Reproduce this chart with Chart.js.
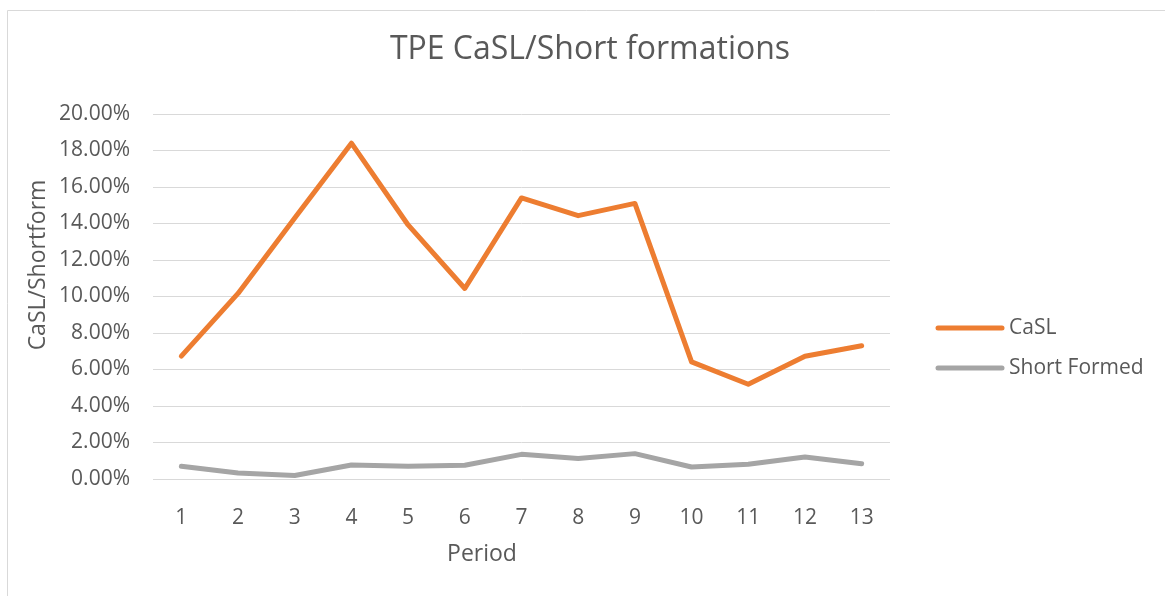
<!DOCTYPE html>
<html>
<head>
<meta charset="utf-8">
<script src="https://cdn.jsdelivr.net/npm/chart.js@4"></script>
<style>
  html, body { margin: 0; padding: 0; background: #fff; }
  #wrap { width: 1165px; height: 596px; position: relative; }
</style>
</head>
<body>
<div id="wrap"><canvas id="myChart" width="1165" height="596"></canvas></div>
<script>
// periods on the x axis
const periods = ["1", "2", "3", "4", "5", "6", "7", "8", "9", "10", "11", "12", "13"];
// values as fractions (0.067 = 6.70%)
const casl = [0.0673, 0.1017, 0.1430, 0.1840, 0.1392, 0.1044, 0.1540, 0.1443, 0.1510, 0.0642, 0.0519, 0.0673, 0.0730];
const shortFormed = [0.0070, 0.0033, 0.0019, 0.0077, 0.0070, 0.0075, 0.0135, 0.0112, 0.0139, 0.0066, 0.0081, 0.0121, 0.0084];

const chartTitle = "TPE CaSL/Short formations";
const xTitle = "Period";
const yTitle = "CaSL/Shortform";

const FONT = "'Open Sans', 'Liberation Sans', sans-serif";
const TEXT = "#595959";

// frame, titles and legend drawn by hand (Excel style placement)
const excelBits = {
  id: "excelBits",
  beforeDraw(chart) {
    const c = chart.ctx;
    c.save();
    c.strokeStyle = "#d9d9d9";
    c.lineWidth = 1;
    c.beginPath();
    c.moveTo(7.5, 596);
    c.lineTo(7.5, 10.5);
    c.lineTo(1165, 10.5);
    c.stroke();
    c.restore();
  },
  afterDraw(chart) {
    const c = chart.ctx;
    c.save();
    c.fillStyle = TEXT;
    c.textBaseline = "alphabetic";

    // chart title
    c.font = "32px " + FONT;
    c.textAlign = "center";
    c.fillText(chartTitle, 590, 59);

    // x axis title
    c.font = "23px " + FONT;
    c.fillText(xTitle, 482, 561);

    // y axis title
    c.save();
    c.translate(45, 265);
    c.rotate(-Math.PI / 2);
    c.fillText(yTitle, 0, 0);
    c.restore();

    // legend
    c.textAlign = "left";
    c.textBaseline = "middle";
    c.font = "21px " + FONT;
    chart.data.datasets.forEach((ds, i) => {
      const y = 328 + i * 40;
      c.strokeStyle = ds.borderColor;
      c.lineWidth = 5;
      c.lineCap = "round";
      c.beginPath();
      c.moveTo(938, y);
      c.lineTo(1002, y);
      c.stroke();
      c.fillText(ds.label, 1009, y);
    });
    c.restore();
  }
};

const ctx = document.getElementById("myChart");
new Chart(ctx, {
  type: "line",
  data: {
    labels: periods,
    datasets: [
      {
        label: "CaSL",
        data: casl,
        borderColor: "#ed7d31",
        borderWidth: 5,
        pointRadius: 0,
        tension: 0,
        borderCapStyle: "round",
        borderJoinStyle: "round"
      },
      {
        label: "Short Formed",
        data: shortFormed,
        borderColor: "#a5a5a5",
        borderWidth: 5,
        pointRadius: 0,
        tension: 0,
        borderCapStyle: "round",
        borderJoinStyle: "round"
      }
    ]
  },
  options: {
    responsive: false,
    animation: false,
    layout: { padding: { left: 7, right: 275, top: 114, bottom: 0 } },
    plugins: {
      legend: { display: false },
      tooltip: { enabled: false },
      title: { display: false }
    },
    scales: {
      x: {
        offset: true,
        grid: { display: false, drawTicks: false },
        border: { display: false },
        ticks: { color: TEXT, font: { family: FONT, size: 21 }, padding: 26, maxRotation: 0 },
        afterFit(scale) { scale.height = 117; }
      },
      y: {
        min: 0,
        max: 0.2,
        grid: { color: "#d9d9d9", lineWidth: 1, drawTicks: false },
        border: { display: false },
        ticks: {
          stepSize: 0.02,
          color: TEXT,
          font: { family: FONT, size: 21 },
          padding: 23,
          callback: (v) => (v * 100).toFixed(2) + "%"
        },
        afterFit(scale) { scale.width = 146; }
      }
    }
  },
  plugins: [excelBits]
});
</script>
</body>
</html>
